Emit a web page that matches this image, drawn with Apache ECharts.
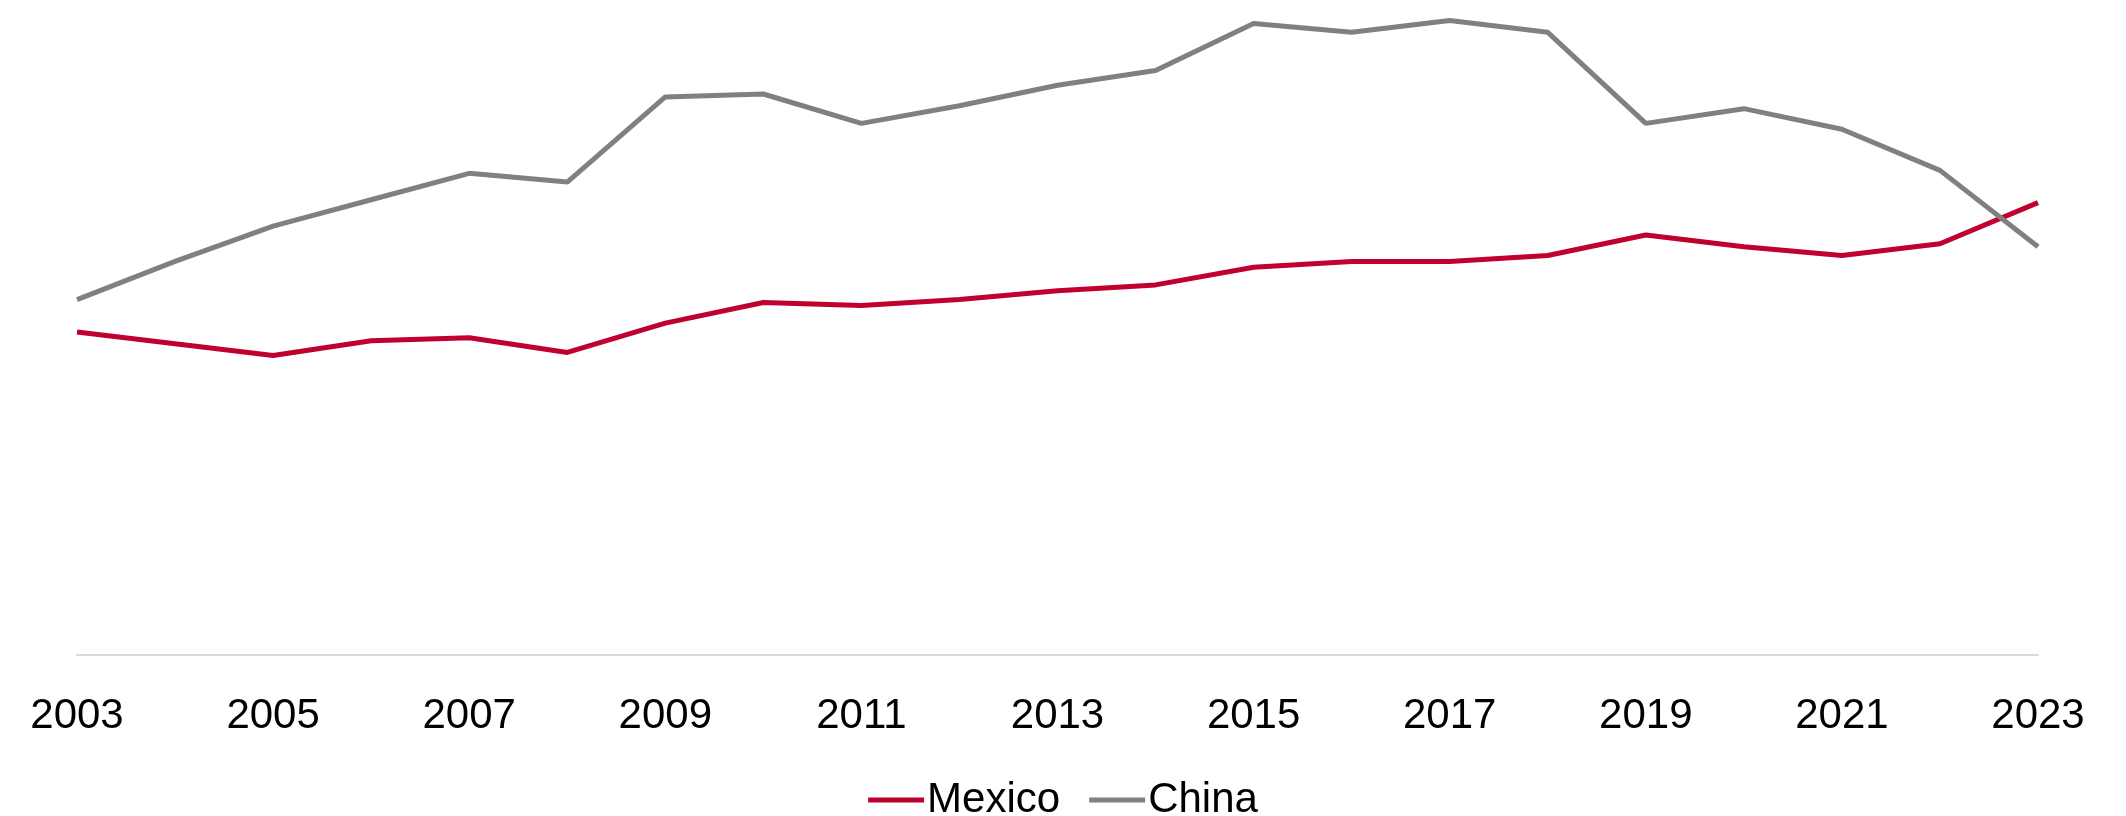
<!DOCTYPE html>
<html>
<head>
<meta charset="utf-8">
<script src="https://cdn.jsdelivr.net/npm/echarts@6/dist/echarts.min.js"></script>
<style>
html,body{margin:0;padding:0;background:#fff;}
#chart{width:2126px;height:816px;}
</style>
</head>
<body>
<div id="chart"></div>
<script>
const years = ['2003','2004','2005','2006','2007','2008','2009','2010','2011','2012','2013','2014','2015','2016','2017','2018','2019','2020','2021','2022','2023'];
const mexico = [11.0,10.6,10.2,10.7,10.8,10.3,11.3,12.0,11.9,12.1,12.4,12.6,13.2,13.4,13.4,13.6,14.3,13.9,13.6,14.0,15.4];
const china = [12.1,13.4,14.6,15.5,16.4,16.1,19.0,19.1,18.1,18.7,19.4,19.9,21.5,21.2,21.6,21.2,18.1,18.6,17.9,16.5,13.9];

const chart = echarts.init(document.getElementById('chart'), null, {renderer:'canvas'});
chart.setOption({
  animation:false,
  backgroundColor:'#ffffff',
  textStyle:{fontFamily:'Liberation Sans'},
  grid:{left:77, right:88, top:0, bottom:161, containLabel:false},
  legend:{
    data:['Mexico','China'],
    left:'center',
    top:774,
    icon:'rect',
    itemWidth:56,
    itemHeight:5,
    itemGap:29,
    textStyle:{fontSize:42, color:'#000', fontFamily:'Liberation Sans', padding:[0,0,0,-2]}
  },
  xAxis:{
    type:'category',
    data:years,
    boundaryGap:false,
    axisLine:{show:true, lineStyle:{color:'#d9d9d9', width:2}},
    axisTick:{show:false},
    axisLabel:{interval:1, fontSize:42, color:'#000', margin:40, fontFamily:'Liberation Sans'},
    splitLine:{show:false}
  },
  yAxis:{
    type:'value', min:0, max:22.3,
    show:false,
    splitLine:{show:false}
  },
  series:[
    {name:'Mexico', type:'line', data:mexico, symbol:'none', lineStyle:{color:'#c0002f', width:5}, itemStyle:{color:'#c0002f'}},
    {name:'China', type:'line', data:china, symbol:'none', lineStyle:{color:'#808080', width:5}, itemStyle:{color:'#808080'}}
  ]
});
</script>
</body>
</html>
